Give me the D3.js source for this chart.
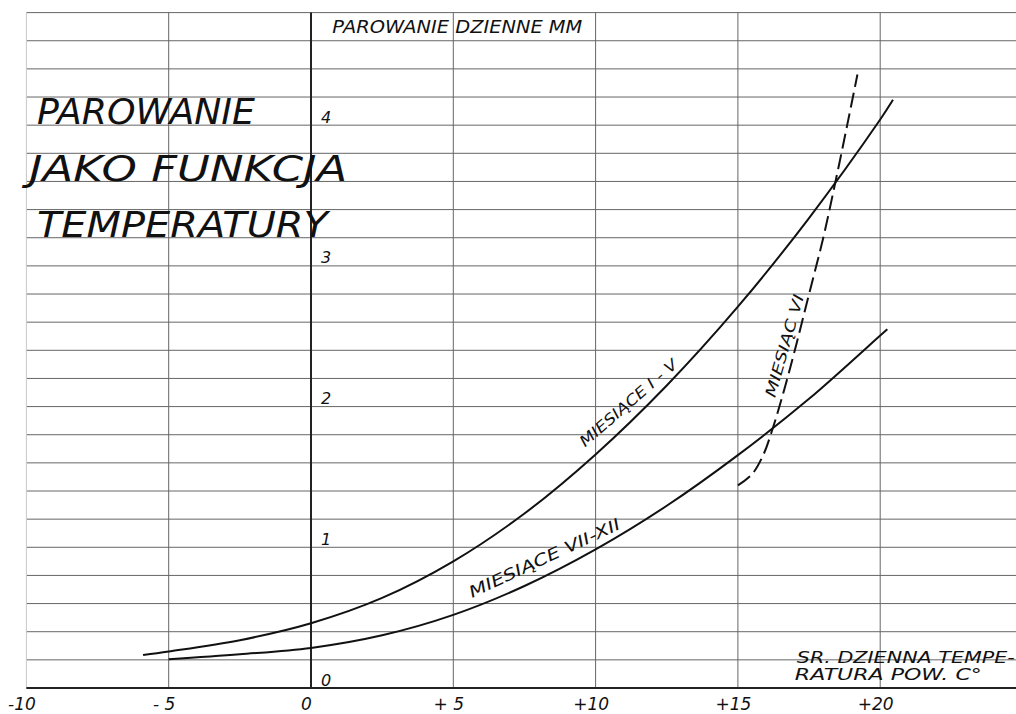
<!DOCTYPE html>
<html>
<head>
<meta charset="utf-8">
<script src="https://cdn.jsdelivr.net/npm/d3@7"></script>
<style>
  html, body { margin: 0; padding: 0; background: #fff; }
  svg text { font-family: "DejaVu Sans", sans-serif; font-style: oblique; font-weight: 200; fill: #111; }
</style>
</head>
<body>
<div class="chart"></div>
<script>
// tick values and labels
const xTicks = [-10, -5, 0, 5, 10, 15, 20];
const xTickLabels = ['-10', '- 5', '0', '+ 5', '+10', '+15', '+20'];
const yTicks = [0, 1, 2, 3, 4];
const yTickLabels = ['0', '1', '2', '3', '4'];

// months I - V
const tempIV = [-5.9, -5, -2.5, 0, 2.5, 5, 7.5, 10, 12.5, 15, 17.5, 20, 20.45];
const evapIV = [0.235, 0.26, 0.34, 0.46, 0.64, 0.90, 1.24, 1.66, 2.15, 2.71, 3.34, 4.04, 4.18];

// months VII - XII
const tempVIIXII = [-5, -2.5, 0, 2.5, 5, 7.5, 10, 12.5, 15, 17.5, 20, 20.25];
const evapVIIXII = [0.205, 0.24, 0.285, 0.375, 0.52, 0.725, 0.985, 1.295, 1.655, 2.055, 2.505, 2.55];

// month VI (dashed)
const tempVI = [15.0, 15.5, 15.9, 16.2, 16.6, 17.0, 17.5, 18.0, 18.43, 18.84, 19.2];
const evapVI = [1.44, 1.52, 1.66, 1.83, 2.1, 2.4, 2.8, 3.2, 3.6, 4.0, 4.36];

const width = 1016, height = 714;
const margin = { left: 26.4, top: 12.6, bottom: 688 };

const x = d3.scaleLinear().domain([-10, 25]).range([margin.left, margin.left + 35 * 28.46]);
const y = d3.scaleLinear().domain([0, 4.8]).range([margin.bottom, margin.top]);

const svg = d3.select('.chart')
  .append('svg')
  .attr('width', width)
  .attr('height', height);

svg.append('rect').attr('width', width).attr('height', height).attr('fill', '#fff');

// grid: horizontal every 0.2
const grid = svg.append('g').attr('class', 'grid');
grid.selectAll('line.h')
  .data(d3.range(0, 4.81, 0.2))
  .join('line')
  .attr('class', 'h')
  .attr('x1', x(-10))
  .attr('x2', width)
  .attr('y1', d => y(d))
  .attr('y2', d => y(d))
  .attr('stroke', '#666')
  .attr('stroke-width', 1);

// grid: vertical every 5 degrees
grid.selectAll('line.v')
  .data([-10, -5, 5, 10, 15, 20])
  .join('line')
  .attr('class', 'v')
  .attr('x1', d => x(d))
  .attr('x2', d => x(d))
  .attr('y1', y(4.8))
  .attr('y2', y(0))
  .attr('stroke', d => d === -10 ? '#c8c8c8' : '#666')
  .attr('stroke-width', 1);

// main axes lines
svg.append('line')
  .attr('x1', x(0)).attr('x2', x(0))
  .attr('y1', y(4.8)).attr('y2', y(0))
  .attr('stroke', '#222').attr('stroke-width', 2);

svg.append('line')
  .attr('x1', x(-10)).attr('x2', width)
  .attr('y1', y(0)).attr('y2', y(0))
  .attr('stroke', '#222').attr('stroke-width', 2);

// x axis labels
const xAxis = d3.axisBottom(x)
  .tickValues(xTicks)
  .tickFormat((d, i) => xTickLabels[i])
  .tickSize(0)
  .tickPadding(0);

svg.append('g')
  .attr('transform', `translate(0, ${y(0)})`)
  .call(xAxis)
  .call(g => g.select('.domain').remove())
  .selectAll('text')
  .attr('x', -5)
  .attr('y', 22)
  .attr('dy', 0)
  .attr('font-size', 17)
  .attr('font-family', null)
  .style('fill', '#111');

// y axis labels (right of zero line, above each line)
const yAxis = d3.axisRight(y)
  .tickValues(yTicks)
  .tickFormat((d, i) => yTickLabels[i])
  .tickSize(0)
  .tickPadding(0);

svg.append('g')
  .attr('transform', `translate(${x(0)}, 0)`)
  .call(yAxis)
  .call(g => g.select('.domain').remove())
  .selectAll('text')
  .attr('x', 10)
  .attr('y', -3)
  .attr('dy', 0)
  .attr('font-size', 16)
  .attr('font-family', null)
  .style('fill', '#111');

// curves
const line = d3.line()
  .x(d => x(d[0]))
  .y(d => y(d[1]))
  .curve(d3.curveCatmullRom.alpha(0.5));

const curves = [
  { pts: d3.zip(tempIV, evapIV), dash: null },
  { pts: d3.zip(tempVIIXII, evapVIIXII), dash: null },
  { pts: d3.zip(tempVI, evapVI), dash: '15,6' }
];

svg.append('g')
  .selectAll('path')
  .data(curves)
  .join('path')
  .attr('d', d => line(d.pts))
  .attr('fill', 'none')
  .attr('stroke', '#111')
  .attr('stroke-width', 2)
  .attr('stroke-dasharray', d => d.dash);

// texts
const texts = svg.append('g');

function label(txt, tx, ty, size, len, rot) {
  texts.append('text')
    .attr('transform', `translate(${tx}, ${ty}) rotate(${rot || 0})`)
    .attr('font-size', size)
    .attr('textLength', len)
    .attr('lengthAdjust', 'spacingAndGlyphs')
    .text(txt);
}

// title block
label('PAROWANIE', x(-9.63), y(4.0) - 1, 35, 218);
label('JAKO FUNKCJA', x(-9.9), y(3.6), 35, 318);
label('TEMPERATURY', x(-9.63), y(3.2) - 1, 35, 291);

// axis titles
label('PAROWANIE DZIENNE MM', x(0.75), y(4.7) + 6, 17, 250);
label('SR. DZIENNA TEMPE-', x(17.07), y(0.18), 16.5, 218);
label('RATURA POW. C°', x(17.0), y(0.06), 16.5, 187);

// curve labels
label('MIESIĄCE I - V', x(9.63), y(1.71), 15, 124, -41);
label('MIESIĄCE VII-XII', x(5.66), y(0.64), 16, 165, -25);
label('MIESIĄC VI', x(16.3), y(2.06), 15, 106, -74);
</script>
</body>
</html>
